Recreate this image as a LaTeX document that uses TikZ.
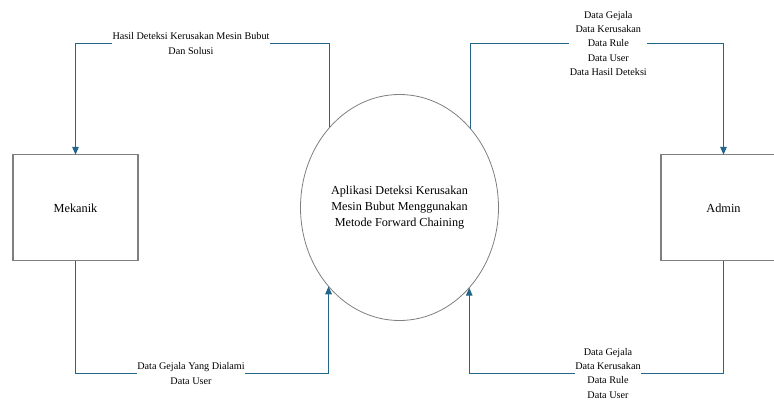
\documentclass[tikz,border=0pt]{standalone}
\usepackage{fontspec}
\setmainfont{Liberation Serif}
\usetikzlibrary{arrows.meta,shapes.geometric}
\definecolor{flowc}{HTML}{23668A}
\definecolor{edgec}{HTML}{7F7F7F}
\tikzset{
  entity/.style={draw=edgec, line width=1.1pt, minimum width=125pt, minimum height=106pt, inner sep=0pt, outer sep=0pt, font=\fontsize{12.3}{15.8}\selectfont},
  proc/.style={ellipse, draw=edgec, line width=0.8pt, minimum width=198pt, minimum height=226pt, inner sep=0pt, outer sep=0pt, align=center, font=\fontsize{12.2}{15.8}\selectfont},
  flow/.style={draw=flowc, line width=1.3pt, -{Triangle[length=8pt,width=6.5pt]}},
  lbl/.style={fill=white, inner xsep=0.5pt, inner ysep=0pt, align=center, font=\fontsize{10.2}{14.2}\selectfont}
}
\begin{document}
\begin{tikzpicture}[x=1pt,y=-1pt]
\useasboundingbox (0,0) rectangle (774,401);
\clip (0,0) rectangle (774,401);
\node[entity] (mek) at (75.5,207.8) {Mekanik};
\node[entity] (adm) at (723.5,207.8) {Admin};
\node[proc] (proc) at (399.5,207.5) {Aplikasi Deteksi Kerusakan\\Mesin Bubut Menggunakan\\Metode Forward Chaining};
\coordinate (ytop) at (0,43.5);
\coordinate (ybot) at (0,373.5);
\draw[flow] (proc.131.2) |- (ytop -| mek.north) -- (mek.north);
\draw[flow] (proc.48.8) |- (ytop -| adm.north) -- (adm.north);
\draw[flow] (mek.south) |- (ybot -| proc.228.8) -- (proc.228.8);
\draw[flow] (adm.south) |- (ybot -| proc.311.2) -- (proc.311.2);
\node[lbl] (l1) at (191,43.6) {Hasil Deteksi Kerusakan Mesin Bubut\\Dan Solusi};
\node[lbl] (l2) at (608.3,43.4) {Data Gejala\\Data Kerusakan\\Data Rule\\Data User\\Data Hasil Deteksi};
\node[lbl] (l3) at (191,373.6) {Data Gejala Yang Dialami\\Data User};
\node[lbl] (l4) at (608,373.4) {Data Gejala\\Data Kerusakan\\Data Rule\\Data User};
\end{tikzpicture}
\end{document}
